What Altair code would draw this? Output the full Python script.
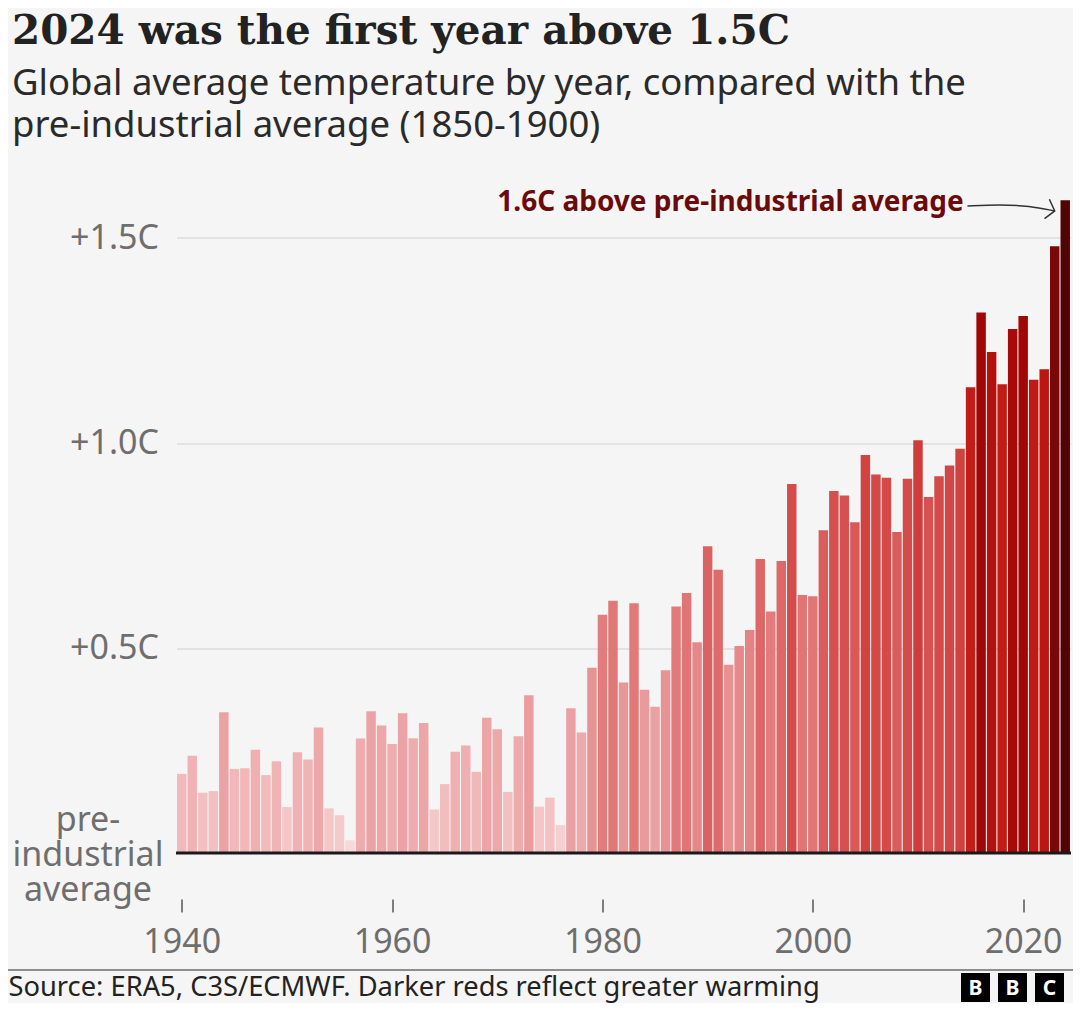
import altair as alt
import pandas as pd

# ---------------- data ----------------
YEARS = list(range(1940, 2025))
ANOMALY = [
    0.193, 0.237, 0.147, 0.151, 0.343, 0.205, 0.207, 0.252, 0.190, 0.224,  # 1940s
    0.112, 0.246, 0.228, 0.306, 0.109, 0.092, 0.031, 0.279, 0.346, 0.311,  # 1950s
    0.266, 0.341, 0.280, 0.317, 0.106, 0.168, 0.247, 0.262, 0.198, 0.330,  # 1960s
    0.302, 0.149, 0.285, 0.385, 0.113, 0.135, 0.068, 0.353, 0.294, 0.452,  # 1970s
    0.581, 0.615, 0.416, 0.609, 0.398, 0.357, 0.446, 0.601, 0.634, 0.514,  # 1980s
    0.748, 0.691, 0.459, 0.505, 0.544, 0.717, 0.589, 0.712, 0.900, 0.629,  # 1990s
    0.626, 0.787, 0.883, 0.872, 0.807, 0.971, 0.923, 0.915, 0.783, 0.913,  # 2000s
    1.007, 0.868, 0.919, 0.945, 0.986, 1.136, 1.318, 1.222, 1.143, 1.278,  # 2010s
    1.310, 1.154, 1.180, 1.480, 1.592,                                     # 2020s
]
X_TICKS = [1940, 1960, 1980, 2000, 2020]
Y_TICKS = [0.5, 1.0, 1.5]
BASELINE_LABEL = ["pre-", "industrial", "average"]

TITLE = "2024 was the first year above 1.5C"
SUBTITLE = ["Global average temperature by year, compared with the",
            "pre-industrial average (1850-1900)"]
SOURCE = "Source: ERA5, C3S/ECMWF. Darker reds reflect greater warming"
LOGO = ["B", "B", "C"]

ANN_TEXT = "1.6C above pre-industrial average"
ANN_YEAR = [2014.35]
ANN_VALUE = [1.566]
ARROW_YEAR = [2014.7, 2017.8, 2020.6, 2023.0]
ARROW_VALUE = [1.578, 1.582, 1.578, 1.566]

# colour ramp (darker reds = greater warming)
COLOR_DOMAIN = [0.0, 0.1, 0.25, 0.4, 0.6, 0.8, 1.0, 1.15, 1.3, 1.5, 1.6]
COLOR_RANGE = ["#f9e1e1", "#f5c8c9", "#efb0b2", "#e99a9c", "#e27a7a", "#d95a5a",
               "#cf3f3d", "#c21a14", "#a40707", "#760808", "#4f0404"]

# ---------------- layout ----------------
W = 894
H = 676.5
SANS = "Noto Sans"
GREY = "#6e6e6e"

df = pd.DataFrame({"year": YEARS, "anomaly": ANOMALY})

xscale = alt.Scale(domain=[1939.5, 2024.5], nice=False, zero=False)
yscale = alt.Scale(domain=[0, 1.65], nice=False, zero=True)

XAXIS = alt.Axis(values=X_TICKS, format="d", grid=False, domain=False,
                 offset=46, tickSize=13, tickColor="#555555", tickWidth=1.5,
                 labelPadding=13, labelFontSize=34, labelColor=GREY,
                 labelFont=SANS, title=None)
YAXIS = alt.Axis(values=Y_TICKS, labelExpr="'+' + format(datum.value, '.1f') + 'C'",
                 grid=True, gridColor="#cfcfcf", gridWidth=1, domain=False,
                 ticks=False, labelPadding=18, labelFontSize=34,
                 labelColor=GREY, labelFont=SANS, title=None)


def X(field):
    return alt.X(field, scale=xscale, axis=XAXIS, title=None)


def Y(field):
    return alt.Y(field, scale=yscale, axis=YAXIS, title=None)


bars = alt.Chart(df).transform_calculate(
    x0="datum.year - 0.45", x1="datum.year + 0.45", zero="0"
).mark_bar(strokeWidth=0).encode(
    x=X("x0:Q"),
    x2="x1:Q",
    y=Y("anomaly:Q"),
    y2="zero:Q",
    color=alt.Color("anomaly:Q", legend=None,
                    scale=alt.Scale(domain=COLOR_DOMAIN, range=COLOR_RANGE, interpolate="rgb")),
)

base_df = pd.DataFrame({"v": [0.0]})
baseline = alt.Chart(base_df).mark_rule(color="#1a1a1a", strokeWidth=3).encode(
    y=Y("v:Q"), x=alt.value(-0.5), x2=alt.value(W + 0.5),
)
base_label = alt.Chart(base_df).mark_text(
    text=BASELINE_LABEL, align="center", baseline="middle", lineHeight=35,
    fontSize=34, font=SANS, color=GREY, dy=-32,
).encode(y=Y("v:Q"), x=alt.value(-88.5))

ann_df = pd.DataFrame({"year": ANN_YEAR, "v": ANN_VALUE, "t": [ANN_TEXT]})
annotation = alt.Chart(ann_df).mark_text(
    align="right", baseline="alphabetic", fontSize=28, fontWeight="bold",
    font=SANS, color="#6b0a0a",
).encode(x=X("year:Q"), y=Y("v:Q"), text="t:N")

arrow_df = pd.DataFrame({"year": ARROW_YEAR, "v": ARROW_VALUE, "o": list(range(len(ARROW_YEAR)))})
arrow = alt.Chart(arrow_df).mark_line(interpolate="basis", color="#333333", strokeWidth=1.5).encode(
    x=X("year:Q"), y=Y("v:Q"), order="o:Q")
head = alt.Chart(arrow_df.tail(1)).mark_point(
    shape="M-0.8,-1L0,0L-0.8,1", filled=False, stroke="#333333", strokeWidth=1.5,
    size=400, angle=14, opacity=1,
).encode(x=X("year:Q"), y=Y("v:Q"))

one = pd.DataFrame({"a": [0]})
title = alt.Chart(one).mark_text(
    text=TITLE, align="left", baseline="alphabetic", font="DejaVu Serif",
    fontSize=40.5, fontWeight="bold", color="#222222",
).encode(x=alt.value(-164.5), y=alt.value(-132.5))
subtitle = alt.Chart(one).mark_text(
    text=SUBTITLE, align="left", baseline="alphabetic", font=SANS,
    fontSize=36.5, lineHeight=42, color="#2a2a2a",
).encode(x=alt.value(-164.5), y=alt.value(-81.5))

footer_rule = alt.Chart(one).mark_rule(color="#6b6b6b", strokeWidth=1.5).encode(
    x=alt.value(-168.5), x2=alt.value(W + 3), y=alt.value(793.5))
source = alt.Chart(one).mark_text(
    text=SOURCE, align="left", baseline="alphabetic", font=SANS,
    fontSize=27.3, color="#222222",
).encode(x=alt.value(-168), y=alt.value(819))

logo_layers = []
for i, letter in enumerate(LOGO):
    cx = 799 + 37 * i
    logo_layers.append(alt.Chart(one).mark_square(color="#000000", size=841, opacity=1).encode(
        x=alt.value(cx), y=alt.value(811)))
    logo_layers.append(alt.Chart(one).mark_text(
        text=letter, align="center", baseline="middle", font=SANS, fontWeight="bold",
        fontSize=21, color="#ffffff").encode(x=alt.value(cx), y=alt.value(812)))

chart = alt.layer(
    bars, baseline, base_label, annotation, arrow, head, title, subtitle,
    footer_rule, source, *logo_layers,
).properties(
    width=W, height=H,
    autosize=alt.AutoSizeParams(type="none"),
    padding={"left": 168.5, "top": 168.5, "right": 2.5, "bottom": 150},
    background="#f5f5f5",
).configure_view(stroke=None)

chart.save("out.html", embed_options={"renderer": "svg", "actions": False})
